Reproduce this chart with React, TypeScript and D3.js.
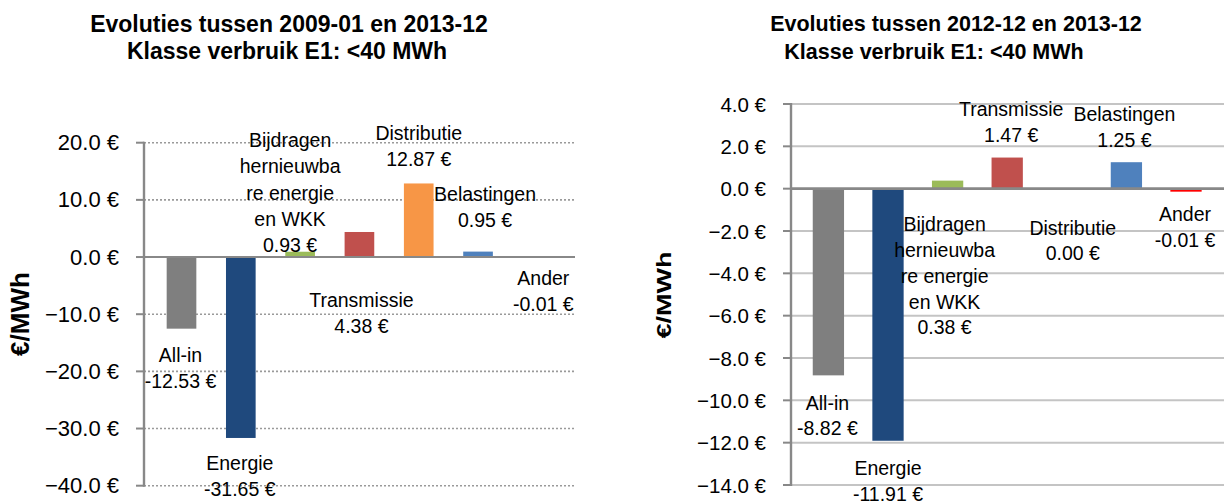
import * as d3 from 'd3';

// categories and label lines (Excel wraps the long name)
const categories = ["All-in", "Energie", "Bijdragen hernieuwbare energie en WKK", "Transmissie", "Distributie", "Belastingen", "Ander"];
const labelLines = [["All-in"], ["Energie"], ["Bijdragen", "hernieuwba", "re energie", "en WKK"], ["Transmissie"], ["Distributie"], ["Belastingen"], ["Ander"]];
const barColors = ["#7f7f7f", "#1f497d", "#9bbb59", "#c0504d", "#f79646", "#4f81bd", "#ff0000"];

// 2009-01 -> 2013-12
const valuesLong = [-12.53, -31.65, 0.93, 4.38, 12.87, 0.95, -0.01];
const ticksLong = [-40, -30, -20, -10, 0, 10, 20];
// where Excel put each data label (value units) and its sideways nudge
const labelAtLong = [-17.14, -35.95, 20.47, -7.52, 21.69, 11.02, -3.67];
const labelDxLong = [-1, -1, -10, 2, 0, 7, 6];

// 2012-12 -> 2013-12
const valuesShort = [-8.82, -11.91, 0.38, 1.47, 0.0, 1.25, -0.01];
const ticksShort = [-14, -12, -10, -8, -6, -4, -2, 0, 2, 4];
const labelAtShort = [-10.11, -13.2, -1.68, 3.76, -1.84, 3.54, -1.21];
const labelDxShort = [-1, 0, -3, 4, 6, -2, -1];

const FONT = "'Liberation Sans', Arial, sans-serif";

interface PanelProps {
    title: [string, string];
    titlePos: [number, number][];
    titleSize: number;
    values: number[];
    ticks: number[];
    labelAt: number[];
    labelDx: number[];
    xRange: [number, number];
    yRange: [number, number];
    padInner: number;
    axisX: number;
    gridRight: number;
    dotted: boolean;
    tickSize: number;
    labelSize: number;
    lineGap: number;
    yTitle: { x: number; y: number; size: number; length?: number };
    minBar: number;
}

const Panel = (p: PanelProps) => {
    const x = d3.scaleBand<string>()
        .domain(categories)
        .range(p.xRange)
        .paddingInner(p.padInner)
        .paddingOuter(p.padInner / 2);

    const y = d3.scaleLinear()
        .domain([p.ticks[0], p.ticks[p.ticks.length - 1]])
        .range(p.yRange);

    const fmtTick = d3.format(".1f");
    const gridColor = p.dotted ? "#9a9a9a" : "#c4c4c4";
    const axisColor = "#888888";

    return (
        <g>
            {p.title.map((t, i) => (
                <text key={t} x={p.titlePos[i][0]} y={p.titlePos[i][1]} textAnchor="middle"
                    dominantBaseline="central" fontWeight="bold" fontSize={p.titleSize} fontFamily={FONT}>{t}</text>
            ))}

            {/* gridlines, tick marks and tick labels */}
            {p.ticks.map(t => (
                <g key={t}>
                    {t !== 0 && (
                        <line x1={p.axisX} x2={p.gridRight} y1={y(t)} y2={y(t)} stroke={gridColor}
                            strokeWidth={p.dotted ? 1.6 : 2} strokeDasharray={p.dotted ? "2 2" : undefined} />
                    )}
                    <line x1={p.axisX - 8} x2={p.axisX} y1={y(t)} y2={y(t)} stroke={axisColor} strokeWidth={2} />
                    <text x={p.axisX - 25} y={y(t)} textAnchor="end" dominantBaseline="central"
                        fontSize={p.tickSize} fontFamily={FONT}>{fmtTick(t)} €</text>
                </g>
            ))}

            {/* bars */}
            {p.values.map((v, i) => {
                const y0 = y(0);
                const y1 = y(v);
                let top = Math.min(y0, y1);
                let h = Math.abs(y1 - y0);
                if (h < p.minBar && v !== 0) {
                    h = p.minBar;
                    top = v < 0 ? y0 + 1 : y0 - h;
                }
                return <rect key={categories[i]} x={x(categories[i])} y={top} width={x.bandwidth()} height={h} fill={barColors[i]} />;
            })}

            {/* axes */}
            <line x1={p.axisX} x2={p.gridRight} y1={y(0)} y2={y(0)} stroke={axisColor} strokeWidth={p.dotted ? 2 : 2.6} />
            <line x1={p.axisX} x2={p.axisX} y1={p.yRange[1] - 1} y2={p.yRange[0] + 1} stroke={axisColor} strokeWidth={2.4} />

            {/* data labels */}
            {p.values.map((v, i) => {
                const cx = (x(categories[i]) as number) + x.bandwidth() / 2 + p.labelDx[i];
                const lines = [...labelLines[i], `${v.toFixed(2)} €`];
                return lines.map((ln, j) => (
                    <text key={`${i}-${j}`} x={cx} y={y(p.labelAt[i]) + j * p.lineGap} textAnchor="middle"
                        dominantBaseline="central" fontSize={p.labelSize} fontFamily={FONT}>{ln}</text>
                ));
            })}

            <text transform={`translate(${p.yTitle.x},${p.yTitle.y}) rotate(-90)`} textAnchor="middle"
                dominantBaseline="central" fontWeight="bold" fontSize={p.yTitle.size} fontFamily={FONT}
                textLength={p.yTitle.length} lengthAdjust="spacingAndGlyphs">€/MWh</text>
        </g>
    );
};

export default function App() {
    return (
        <svg width={1224} height={504} style={{ position: "absolute", left: 0, top: 0, background: "#fff" }}>
            <Panel
                title={["Evoluties tussen 2009-01 en 2013-12", "Klasse verbruik E1: <40 MWh"]}
                titlePos={[[289, 24], [287, 51]]}
                titleSize={23}
                values={valuesLong}
                ticks={ticksLong}
                labelAt={labelAtLong}
                labelDx={labelDxLong}
                xRange={[151.85, 567]}
                yRange={[485.7, 142.7]}
                padInner={0.5}
                axisX={144}
                gridRight={575}
                dotted={true}
                tickSize={22}
                labelSize={19.5}
                lineGap={26.3}
                yTitle={{ x: 20, y: 314, size: 26 }}
                minBar={0}
            />
            <Panel
                title={["Evoluties tussen 2012-12 en 2013-12", "Klasse verbruik E1: <40 MWh"]}
                titlePos={[[956, 24], [934, 52]]}
                titleSize={21.5}
                values={valuesShort}
                ticks={ticksShort}
                labelAt={labelAtShort}
                labelDx={labelDxShort}
                xRange={[798.6, 1215.8]}
                yRange={[485, 104]}
                padInner={0.475}
                axisX={791}
                gridRight={1224}
                dotted={false}
                tickSize={20.5}
                labelSize={19.5}
                lineGap={25.8}
                yTitle={{ x: 664, y: 295, size: 20, length: 87 }}
                minBar={2}
            />
        </svg>
    );
}
